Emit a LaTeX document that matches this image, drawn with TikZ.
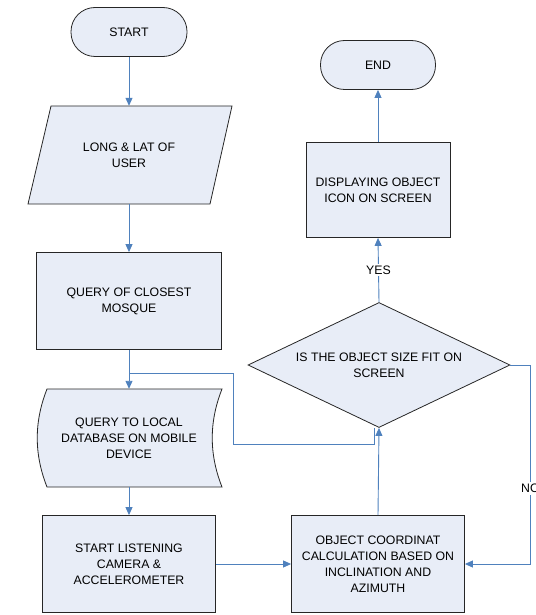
\documentclass[tikz,border=0pt]{standalone}
\usepackage{fontspec}
\setmainfont{Liberation Sans}
\usetikzlibrary{shapes.geometric,arrows.meta}
\definecolor{boxfill}{HTML}{E8EDF7}
\definecolor{flowblue}{HTML}{4F81BD}
\begin{document}
\begin{tikzpicture}[x=1pt,y=-1pt,>={Triangle[length=8pt,width=7pt]},
    font=\fontsize{12.3}{16}\selectfont,
    outline/.style={draw=black!85,fill=boxfill,line width=0.8pt},
    box/.style={outline,align=center,inner sep=0pt},
    txt/.style={align=center,inner sep=0pt},
    term/.style={box,rounded corners=24pt,minimum width=116pt,minimum height=49pt},
    proc/.style={box,minimum width=#1,minimum height=97pt},
    flow/.style={->,draw=flowblue,line width=0.9pt},
    link/.style={draw=flowblue,line width=0.9pt},
    lbl/.style={fill=white,inner sep=2pt}]
    \useasboundingbox (0,0) rectangle (535,615);
    \node[term] (start) at (129,32) {START};
    \draw[outline] (51,106) -- (232,106) -- (210,204) -- (28,204) -- cycle;
    \node[txt,minimum width=160pt,minimum height=98pt] (user) at (129,155) {LONG \& LAT OF\\USER};
    \node[proc=185pt] (closest) at (129,301) {QUERY OF CLOSEST\\MOSQUE};
    \draw[outline] (47,389) -- (222,389) .. controls (209,422) and (209,454) .. (222,487)
        -- (47,487) .. controls (34,454) and (34,422) .. (47,389) -- cycle;
    \node[txt,minimum width=160pt,minimum height=98pt] (db) at (129,438) {QUERY TO LOCAL\\DATABASE ON MOBILE\\DEVICE};
    \node[proc=173pt] (listen) at (129,564) {START LISTENING\\CAMERA \&\\ACCELEROMETER};
    \node[proc=173pt] (coord) at (378,564) {OBJECT COORDINAT\\CALCULATION BASED ON\\INCLINATION AND\\AZIMUTH};
    \node[box,diamond,aspect=2.1,minimum width=262pt,minimum height=125pt] (fit) at (379,365) {IS THE OBJECT SIZE FIT ON\\SCREEN};
    \node[box,minimum width=144pt,minimum height=95pt] (disp) at (378,190) {DISPLAYING OBJECT\\ICON ON SCREEN};
    \node[term,minimum width=115pt] (stop) at (378,65) {END};

    \draw[flow] (start.south) -- (user.north);
    \draw[flow] (user.south) -- (closest.north);
    \draw[flow] (closest.south) -- (db.north);
    \draw[flow] (db.south) -- (listen.north);
    \draw[flow] (listen.east) -- (coord.west);
    \draw[flow] (coord.north) -- (fit.south);
    \draw[flow] (fit.north) -- node[lbl]{YES} (disp.south);
    \draw[flow] (disp.north) -- (stop.south);
    \draw[flow] (fit.east) -- ++(20,0) |- node[lbl,pos=0.31]{NO} (coord.east);
    \draw[link] ([xshift=-5pt]fit.south) -- ++(0,17) -- ++(-141,0) |- ([yshift=15pt]db.north);
\end{tikzpicture}
\end{document}
